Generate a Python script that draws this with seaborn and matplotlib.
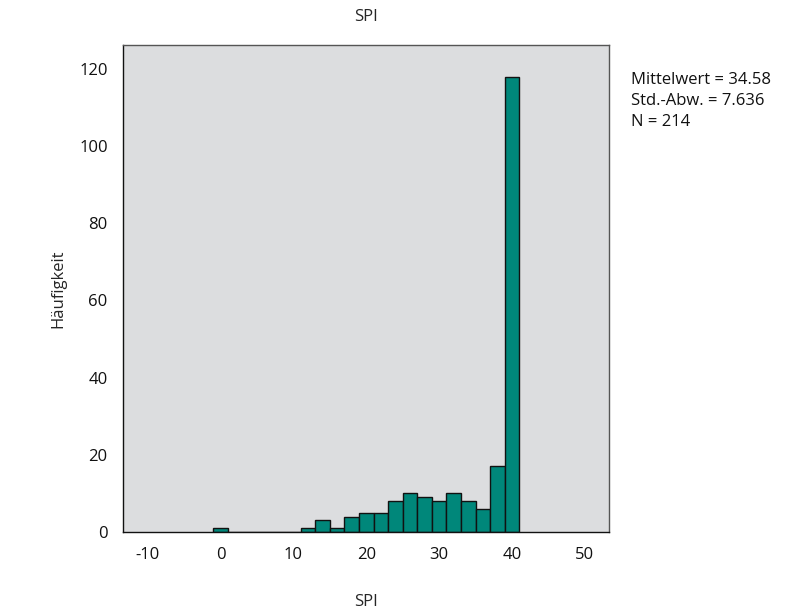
import numpy as np
import pandas as pd
import matplotlib
matplotlib.use("Agg")
import matplotlib.pyplot as plt
import seaborn as sns

# Data
bin_centers = [0, 12, 14, 16, 18, 20, 22, 24, 26, 28, 30, 32, 34, 36, 38, 40]
counts = [1, 1, 3, 1, 4, 5, 5, 8, 10, 9, 8, 10, 8, 6, 17, 118]
bin_edges = list(range(-1, 42, 2))
x_ticks = [-10, 0, 10, 20, 30, 40, 50]
y_ticks = [0, 20, 40, 60, 80, 100, 120]
stats_lines = ["Mittelwert = 34.58", "Std.-Abw. = 7.636", "N = 214"]

sns.set_theme(style="white")
plt.rcParams['font.family'] = ['Open Sans', 'DejaVu Sans']
plt.rcParams['axes.unicode_minus'] = False

df = pd.DataFrame({"SPI": bin_centers, "n": counts})

fig = plt.figure(figsize=(7.92, 6.13), dpi=100)
ax = fig.add_axes([0.1553, 0.1321, 0.6136, 0.7945])
ax.set_facecolor("#DCDDDF")

sns.histplot(data=df, x="SPI", weights="n", bins=bin_edges, ax=ax,
             color="#00877A", edgecolor="#111111", linewidth=1.0, alpha=1.0)

ax.set_xlim(-13.4, 53.3)
ax.set_ylim(0, 126.2)
ax.set_xticks(x_ticks)
ax.set_yticks(y_ticks)
ax.tick_params(axis="both", direction="out", length=6, width=1, color="#222222",
               labelsize=12, labelcolor="#111111", pad=5)
for s in ["left", "bottom"]:
    ax.spines[s].set_color("#111111")
    ax.spines[s].set_linewidth(1.0)
for s in ["top", "right"]:
    ax.spines[s].set_color("#555555")
    ax.spines[s].set_linewidth(1.0)

ax.set_xlabel("SPI", fontsize=12, labelpad=22)
ax.set_ylabel("Häufigkeit", fontsize=12, labelpad=9)
ax.set_title("SPI", fontsize=12, pad=17)

for i, line in enumerate(stats_lines):
    fig.text(631 / 792, 1 - (80 + 21 * i) / 613, line, fontsize=12,
             ha="left", va="center", color="#111111")

fig.savefig("out.png", dpi=100)
